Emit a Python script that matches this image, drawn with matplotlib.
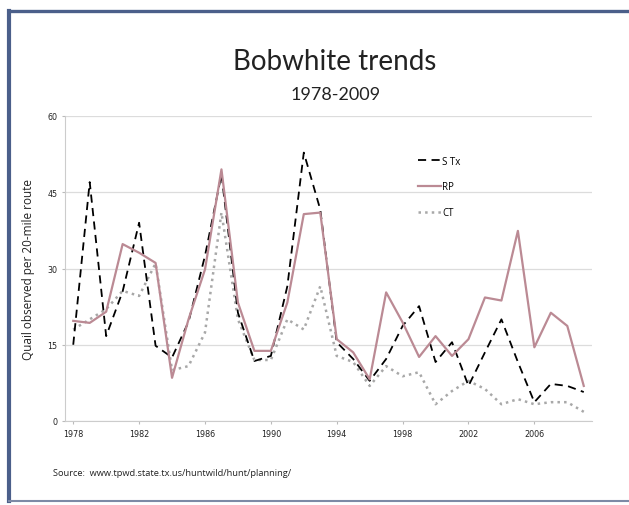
import matplotlib
matplotlib.use('Agg')
import matplotlib.pyplot as plt
from matplotlib.lines import Line2D

years = list(range(1978, 2010))

# quail per 20-mile route
s_tx = [15, 47, 16.7, 25.5, 39, 14.8, 12.5, 19.5, 32.5, 48.5, 21.3, 11.8, 12.8, 26.5, 52.8, 41.6,
        15.5, 12.2, 7.9, 12.2, 18.7, 22.6, 11.6, 15.5, 6.9, 13.5, 20, 11.6, 3.7, 7.3, 6.9, 5.7]
rp = [19.7, 19.3, 21.5, 34.8, 33.1, 31.1, 8.5, 20, 29.8, 49.5, 23.3, 13.8, 13.8, 23.3, 40.7, 41,
      16.1, 13.5, 8.2, 25.3, 19.4, 12.6, 16.7, 12.8, 16.1, 24.3, 23.7, 37.4, 14.5, 21.3, 18.7, 6.9]
ct = [18, 20, 22, 25.6, 24.6, 31, 10, 10.8, 17.4, 41, 20, 12, 12, 20, 18, 26.5,
      12.8, 11.6, 6.9, 10.8, 8.8, 9.6, 3.3, 5.9, 7.9, 6.3, 3.3, 4.3, 3.3, 3.7, 3.7, 1.8]

xticks = list(range(1978, 2010, 4))
yticks = [0, 15, 30, 45, 60]

W, H = 629, 506
fig = plt.figure(figsize=(W / 100, H / 100), dpi=100)
fig.patch.set_facecolor('white')
ax = fig.add_axes([65 / W, 1 - 422 / H, (592 - 65) / W, (422 - 117) / H])

ax.plot(years, ct, color='#a8a8a8', linestyle=':', linewidth=1.8, label='CT')
ax.plot(years, s_tx, color='black', linestyle=(0, (4.5, 3)), linewidth=1.3, label='S Tx')
ax.plot(years, rp, color='#bb8a94', linestyle='-', linewidth=1.6, label='RP')

ax.set_xlim(1977.5, 2009.5)
ax.set_ylim(0, 60)
ax.set_xticks(xticks)
ax.set_yticks(yticks)
ax.tick_params(axis='both', labelsize=5.8, length=2, color='#bbbbbb', colors='#222222')
ax.grid(axis='y', color='#dcdcdc', linewidth=0.9)
ax.set_axisbelow(True)
for side in ['top', 'right']:
    ax.spines[side].set_visible(False)
for side in ['left', 'bottom']:
    ax.spines[side].set_color('#cccccc')
    ax.spines[side].set_linewidth(0.8)

ax.set_ylabel('Quail observed per 20-mile route', fontsize=8.5, family='Open Sans',
              color='#222222', labelpad=9)

# legend order like the slide
h = {l.get_label(): l for l in ax.get_lines()}
leg = ax.legend([h['S Tx'], h['RP'], h['CT']], ['S Tx', 'RP', 'CT'],
                loc='upper left', bbox_to_anchor=((414 - 65) / (592 - 65), 1 - (153 - 117) / (422 - 117)),
                frameon=False, fontsize=7, handlelength=2.4, handletextpad=0.1,
                labelspacing=1.5, borderaxespad=0)
for t in leg.get_texts():
    t.set_family('Open Sans')

fig.text(335 / W, 1 - 62 / H, 'Bobwhite trends', ha='center', va='center',
         fontsize=20, family='Lato', color='#222222')
fig.text(336 / W, 1 - 95 / H, '1978-2009', ha='center', va='center',
         fontsize=13, family='Lato', color='#222222')
fig.text(53 / W, 1 - 474 / H, 'Source:  www.tpwd.state.tx.us/huntwild/hunt/planning/',
         ha='left', va='center', fontsize=6.7, family='Open Sans', color='#222222')

# slide border
bc = '#4b5f8a'
fig.add_artist(Line2D([9 / W, 1], [1 - 12 / H, 1 - 12 / H], color=bc, linewidth=2.4))
fig.add_artist(Line2D([9 / W, 9 / W], [1 - 12 / H, 1 - 502 / H], color=bc, linewidth=3))
fig.add_artist(Line2D([9 / W, 1], [1 - 502 / H, 1 - 502 / H], color='#7d8aa6', linewidth=1.5))

fig.savefig('out.png', dpi=100)
